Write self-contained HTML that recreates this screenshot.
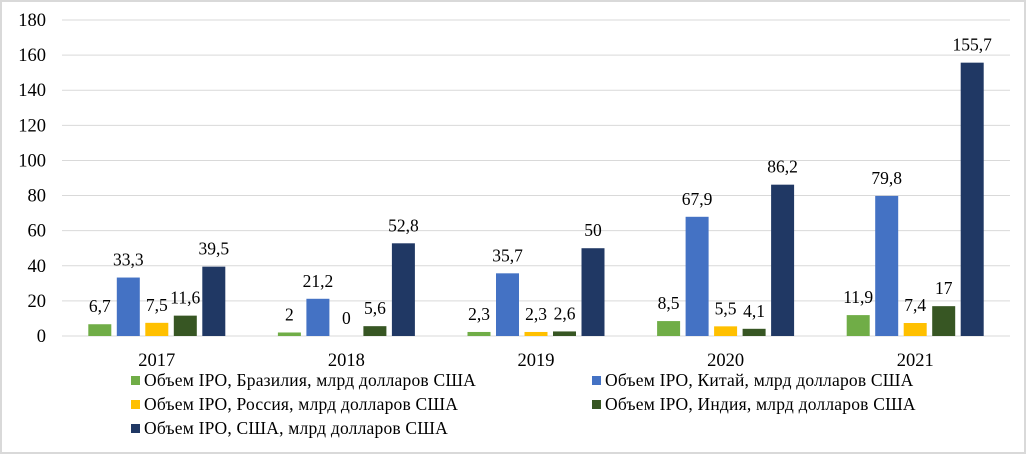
<!DOCTYPE html>
<html><head><meta charset="utf-8"><style>
body{margin:0;background:#fff;}
svg{display:block;font-family:"Liberation Serif","DejaVu Serif",serif;}
</style></head><body>
<svg id="chart" width="1026" height="454">
<rect x="1" y="1" width="1024" height="452" fill="#fff" stroke="#d9d9d9" stroke-width="2"/>
<g id="grid"></g><g id="bars"></g><g id="labels"></g><g id="legend"></g>
</svg>
<script>
const categories=["2017","2018","2019","2020","2021"];
const brazil=[6.7,2,2.3,8.5,11.9];
const china=[33.3,21.2,35.7,67.9,79.8];
const russia=[7.5,0,2.3,5.5,7.4];
const india=[11.6,5.6,2.6,4.1,17];
const usa=[39.5,52.8,50,86.2,155.7];
const yTicks=[0,20,40,60,80,100,120,140,160,180];
const seriesNames=["Объем IPO, Бразилия, млрд долларов США","Объем IPO, Китай, млрд долларов США","Объем IPO, Россия, млрд долларов США","Объем IPO, Индия, млрд долларов США","Объем IPO, США, млрд долларов США"];
const series=[brazil,china,russia,india,usa];
const colors=["#70ad47","#4472c4","#ffc000","#375623","#203864"];
const ns="http://www.w3.org/2000/svg";
const x0=62,x1=1010,y0=336,yTop=20;
const y=v=>y0-(v/180)*(y0-yTop);
const gw=(x1-x0)/categories.length;
const bw=23,step=28.5;
function mk(t,a,p){const e=document.createElementNS(ns,t);for(const k in a)e.setAttribute(k,a[k]);p.appendChild(e);return e;}
const grid=document.getElementById('grid'),bars=document.getElementById('bars'),labels=document.getElementById('labels'),legend=document.getElementById('legend');
yTicks.forEach(t=>{
 const l=mk('line',{x1:x0,x2:x1,y1:y(t),y2:y(t),stroke:'#d9d9d9','stroke-width':1},grid);
 
 
 const tx=mk('text',{x:46,y:y(t)+6,'text-anchor':'end','font-size':18.5,fill:'#000'},labels);
 tx.textContent=t;
 
 
});
categories.forEach((c,i)=>{
 const cx=x0+gw*(i+0.5);
 const tx=mk('text',{x:cx,y:366,'text-anchor':'middle','font-size':18.5},labels);
 tx.textContent=c;
 
 
 series.forEach((s,j)=>{
  const bx=cx+(j-2)*step-bw/2;
  const v=s[i];
  const r=mk('rect',{x:bx,y:y(v),width:bw,height:y0-y(v),fill:colors[j]},bars);
  
  
  const lt=mk('text',{x:bx+bw/2,y:y(v)-12,'text-anchor':'middle','font-size':17.5},labels);
  lt.textContent=String(v).replace('.',',');
  
  
 });
});
const lpos=[[131,386],[592,386],[131,410],[592,410],[131,434]];
seriesNames.forEach((n,j)=>{
 const g=mk('g',{},legend);
 
 
 mk('rect',{x:lpos[j][0],y:lpos[j][1]-10,width:9,height:9,fill:colors[j]},g);
 const t=mk('text',{x:lpos[j][0]+13,y:lpos[j][1],'font-size':17.5,'letter-spacing':0.2},g);
 t.textContent=n;
});
</script>
</body></html>
